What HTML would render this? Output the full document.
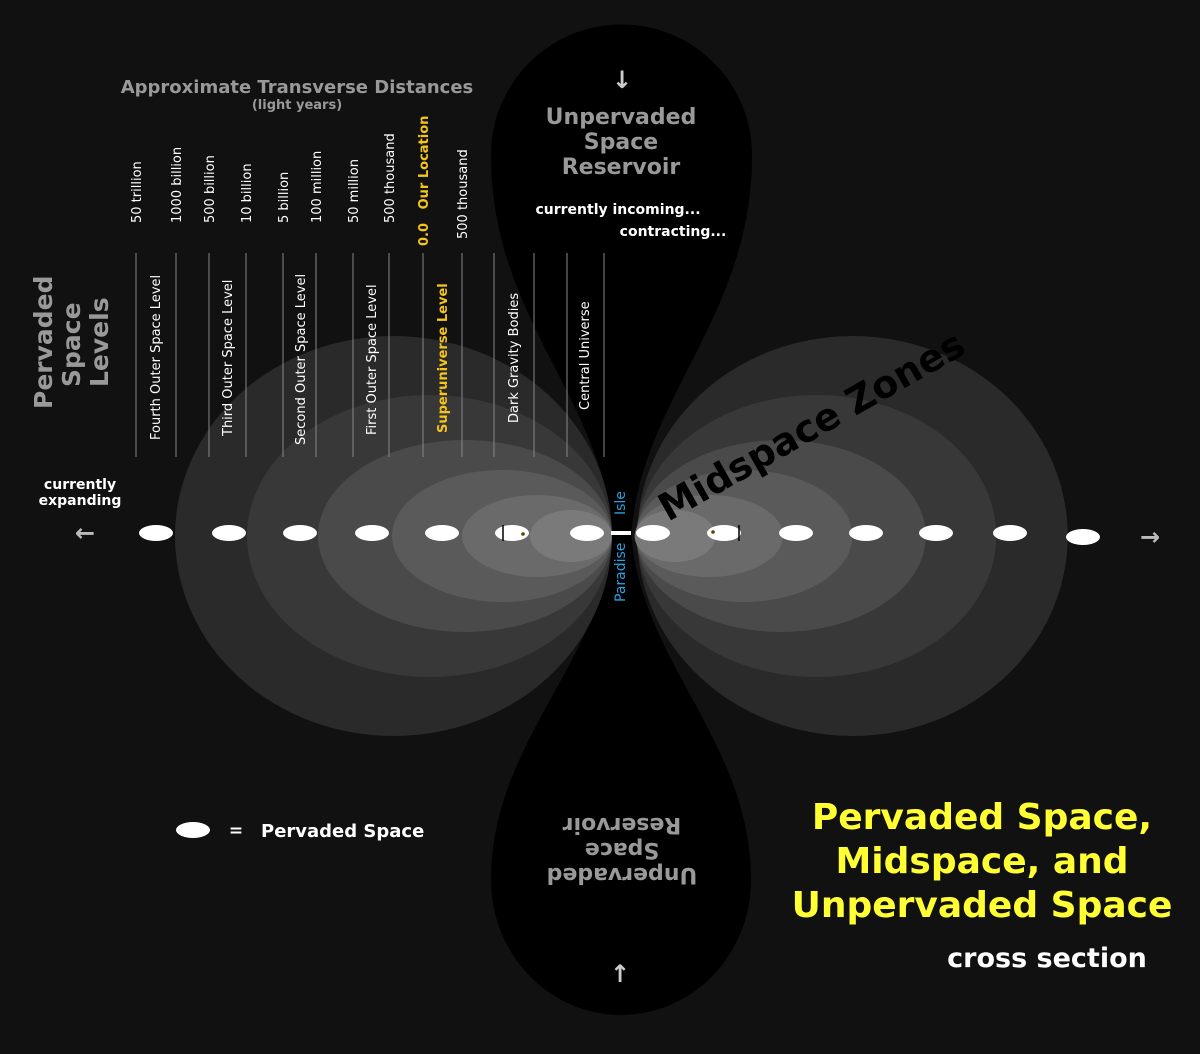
<!DOCTYPE html>
<html><head><meta charset="utf-8"><style>
html,body{margin:0;padding:0;background:#111;}
svg{display:block;font-family:"DejaVu Sans","Liberation Sans",sans-serif;}
</style></head><body>
<svg id="c" width="1200" height="1054" viewBox="0 0 1200 1054">
<rect width="1200" height="1054" fill="#111"/>
<path d="M613 540 C606 400 491 320 491 155 A130 130 0 0 1 752 155 C752 320 638 400 631 540 Z" fill="#000"/>
<path d="M613 530 C606 660 491 740 491 880 A130 135 0 0 0 751 880 C751 740 638 660 631 530 Z" fill="#000"/>
<g id="zones"></g>
<g id="lines"></g>
<g id="labels"></g>
<g id="pervaded"></g>
<rect x="612" y="516" width="18" height="34" fill="#000"/>
<rect x="611" y="531" width="20" height="4" fill="#fff"/>
<text transform="translate(625,515) rotate(-90)" fill="#29a3e0" font-size="14">Isle</text>
<text transform="translate(625,602) rotate(-90)" fill="#29a3e0" font-size="14">Paradise</text>
<text transform="translate(668,522) rotate(-29.5)" fill="#000" font-size="38" font-weight="bold">Midspace Zones</text>
<text x="297" y="93" fill="#999" font-size="18" font-weight="bold" text-anchor="middle">Approximate Transverse Distances</text>
<text x="297" y="109" fill="#999" font-size="13" font-weight="bold" text-anchor="middle">(light years)</text>
<text x="621" y="124" fill="#999" font-size="22" font-weight="bold" text-anchor="middle"><tspan x="621">Unpervaded</tspan><tspan x="621" dy="25">Space</tspan><tspan x="621" dy="25">Reservoir</tspan></text>
<text x="618" y="214" fill="#fff" font-size="14" font-weight="bold" text-anchor="middle">currently incoming...</text>
<text x="673" y="236" fill="#fff" font-size="14" font-weight="bold" text-anchor="middle">contracting...</text>
<text x="622" y="88" fill="#ccc" font-size="24" font-weight="bold" text-anchor="middle">↓</text>
<text x="620" y="982" fill="#ccc" font-size="24" font-weight="bold" text-anchor="middle">↑</text>
<text transform="translate(622,868) rotate(180)" fill="#999" font-size="22" font-weight="bold" text-anchor="middle"><tspan x="0">Unpervaded</tspan><tspan x="0" dy="25">Space</tspan><tspan x="0" dy="25">Reservoir</tspan></text>
<text transform="translate(52,409) rotate(-90)" fill="#999" font-size="25" font-weight="bold"><tspan x="0" y="0">Pervaded</tspan><tspan x="22" y="28">Space</tspan><tspan x="22" y="56">Levels</tspan></text>
<text x="80" y="489" fill="#fff" font-size="14" font-weight="bold" text-anchor="middle"><tspan x="80">currently</tspan><tspan x="80" dy="16">expanding</tspan></text>
<text x="85" y="541" fill="#bbb" font-size="24" font-weight="bold" text-anchor="middle">←</text>
<text x="1150" y="545" fill="#bbb" font-size="24" font-weight="bold" text-anchor="middle">→</text>
<ellipse cx="193" cy="830" rx="17" ry="8" fill="#fff"/>
<text x="236" y="836" fill="#fff" font-size="17" font-weight="bold" text-anchor="middle">=</text>
<text x="261" y="837" fill="#fff" font-size="18" font-weight="bold">Pervaded Space</text>
<text x="982" y="829" fill="#ffff33" font-size="36" font-weight="bold" text-anchor="middle"><tspan x="982">Pervaded Space,</tspan><tspan x="982" dy="44">Midspace, and</tspan><tspan x="982" dy="44">Unpervaded Space</tspan></text>
<text x="1047" y="967" fill="#fff" font-size="27" font-weight="bold" text-anchor="middle">cross section</text>
</svg>
<script>
const NS="http://www.w3.org/2000/svg";
const zoneLeftX=[175,247,318,392,462,530];
const zoneTop=[336,395,440,470,495,510];
const zoneFill=["#2a2a2a","#383838","#4a4a4a","#5a5a5a","#6a6a6a","#7a7a7a"];
const lineX=[136,176,209,246,283,316,353,389,423,462,494,534,567,604];
const distLabels=["50 trillion","1000 billion","500 billion","10 billion","5 billion","100 million","50 million","500 thousand","0.0   Our Location","500 thousand"];
const levelLabels=["Fourth Outer Space Level","Third Outer Space Level","Second Outer Space Level","First Outer Space Level","Superuniverse Level","Dark Gravity Bodies","Central Universe"];
const levelX=[160,232,305,376,447,518,589];
const levelBottom=[440,436,445,435,433,423,410];
const ovalX=[156,229,300,372,442,512,587,653,724,796,866,936,1010,1083];
function mk(t,p,a){const e=document.createElementNS(NS,t);for(const k in a)e.setAttribute(k,a[k]);p.appendChild(e);return e;}
const zones=document.getElementById('zones');
zoneLeftX.forEach((lx,i)=>{
  const rx=(612-lx)/2, ry=536-zoneTop[i];
  const l=mk('ellipse',zones,{cx:lx+rx,cy:536,rx:rx,ry:ry,fill:zoneFill[i]});
  
  
  const r=mk('ellipse',zones,{cx:634+rx,cy:536,rx:rx*0.985,ry:ry,fill:zoneFill[i]});
  
  
});
const lines=document.getElementById('lines');
lineX.forEach(x=>{
  const l=mk('line',lines,{x1:x,x2:x,y1:253,y2:457,stroke:'#888','stroke-width':1});
  
  
});
const labels=document.getElementById('labels');
distLabels.forEach((s,i)=>{
  const x=lineX[i]+5, y=(i==8)?246:(i==9?239:223);
  const t=mk('text',labels,{transform:`translate(${x},${y}) rotate(-90)`,fill:i==8?'#f5c518':'#fff','font-size':13,'font-weight':i==8?'bold':'normal',style:'white-space:pre'});
  
  
  t.textContent=s;
});
levelLabels.forEach((s,i)=>{
  const t=mk('text',labels,{transform:`translate(${levelX[i]},${levelBottom[i]}) rotate(-90)`,fill:i==4?'#f5c518':'#fff','font-size':13,'font-weight':i==4?'bold':'normal'});
  
  
  t.textContent=s;
});
const pv=document.getElementById('pervaded');
ovalX.forEach((x,i)=>{
  const e=mk('ellipse',pv,{cx:x,cy:i==13?537:533,rx:17,ry:8,fill:'#fff'});
  
  
});
[[503,525,541],[739,525,541]].forEach(a=>{const l=mk('line',pv,{x1:a[0],x2:a[0],y1:a[1],y2:a[2],stroke:'#000','stroke-width':1.5});});
[[523,534],[713,532]].forEach(a=>{const c=mk('circle',pv,{cx:a[0],cy:a[1],r:1.8,fill:'#554400'});});
</script>
</body></html>
